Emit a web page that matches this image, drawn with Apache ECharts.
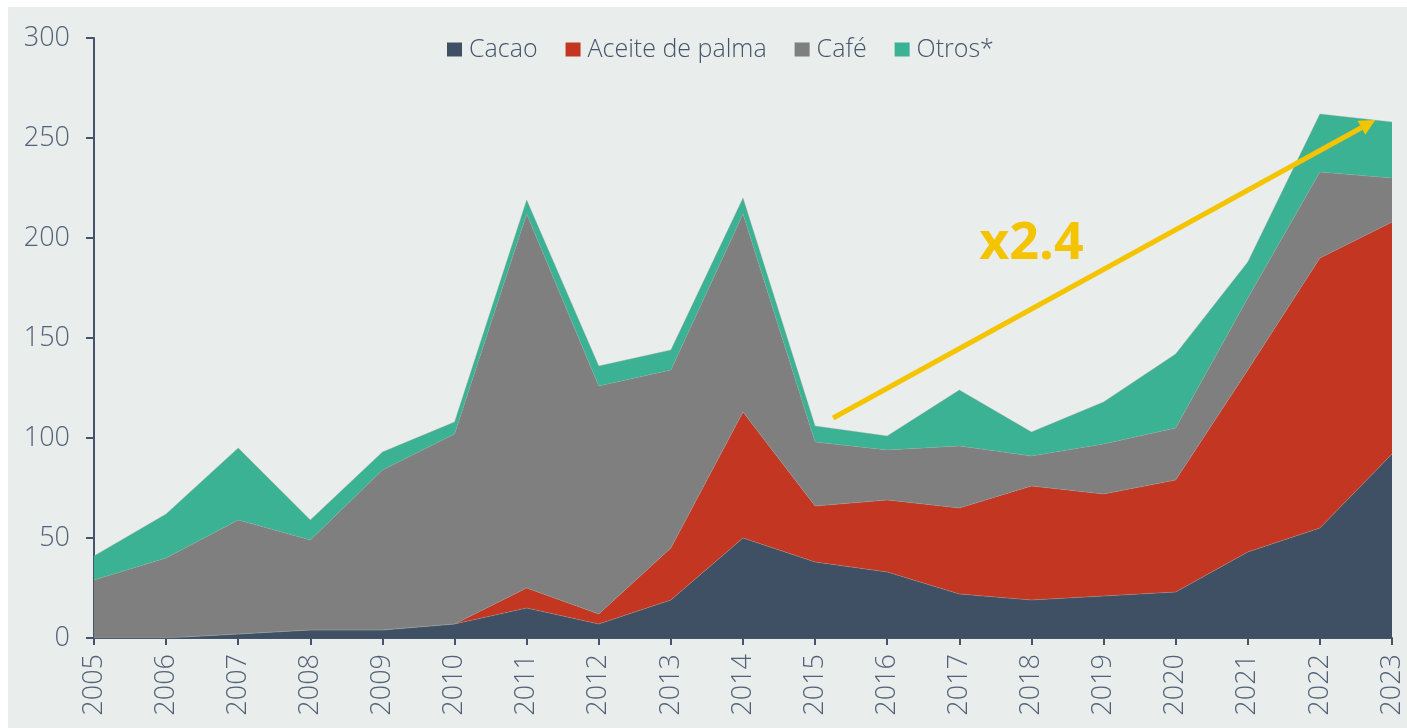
<!DOCTYPE html>
<html>
<head>
<meta charset="utf-8">
<script src="https://cdn.jsdelivr.net/npm/echarts@6/dist/echarts.min.js"></script>
<style>
  html, body { margin: 0; padding: 0; background: #ffffff; }
  #frame { position: absolute; left: 8px; top: 7px; width: 1399px; height: 721px; background: #e9edeb; }
  #chart { position: absolute; left: -8px; top: -7px; width: 1407px; height: 728px; }
</style>
</head>
<body>
<div id="frame"><div id="chart"></div></div>
<script>
// years on the x axis
const years = ['2005','2006','2007','2008','2009','2010','2011','2012','2013','2014',
  '2015','2016','2017','2018','2019','2020','2021','2022','2023'];
// values per product (stacked)
const cacao = [0, 0, 2, 4, 4, 7, 15, 7, 19, 50, 38, 33, 22, 19, 21, 23, 43, 55, 92];
const palma = [0, 0, 0, 0, 0, 0, 10, 5, 26, 63, 28, 36, 43, 57, 51, 56, 91, 135, 116];
const cafe = [29, 40, 57, 45, 80, 95, 187, 114, 89, 99, 32, 25, 31, 15, 25, 26, 36, 43, 22];
const otros = [12, 22, 36, 10, 9, 6, 7, 10, 10, 8, 8, 7, 28, 12, 21, 37, 18, 29, 28];
const yTicks = [0, 50, 100, 150, 200, 250, 300];
// arrow annotation: [year index, value]
const arrowFrom = [10.25, 110];
const arrowTo = [17.77, 259];
const arrowLabel = 'x2.4';

const axisColor = '#44546a';
const textColor = '#52617a';
const font = '"Open Sans", "Noto Sans", sans-serif';

var chart = echarts.init(document.getElementById('chart'));

function mkSeries(name, data, color) {
  return {
    name: name,
    type: 'line',
    stack: 'total',
    data: data,
    symbol: 'none',
    lineStyle: { width: 0.6, color: '#9aa39f', opacity: 0.6 },
    itemStyle: { color: color },
    areaStyle: { color: color, opacity: 1 },
    emphasis: { disabled: true }
  };
}

chart.setOption({
  animation: false,
  backgroundColor: 'transparent',
  textStyle: { fontFamily: font },
  grid: { left: 94, right: 15, top: 38, bottom: 90 },
  legend: {
    top: 32,
    left: 442,
    icon: 'rect',
    itemWidth: 15,
    itemHeight: 14,
    itemGap: 28,
    textStyle: { fontSize: 25, color: axisColor, fontWeight: 300, fontFamily: font, padding: [0, 0, 0, 2] },
    data: ['Cacao', 'Aceite de palma', 'Café', 'Otros*']
  },
  xAxis: {
    type: 'category',
    data: years,
    boundaryGap: false,
    axisLine: { show: true, lineStyle: { color: axisColor, width: 2 } },
    axisTick: { show: true, alignWithLabel: true, length: 7, lineStyle: { color: axisColor, width: 2 } },
    axisLabel: { rotate: 90, margin: 16, fontSize: 27, color: textColor, fontWeight: 300, fontFamily: font },
    splitLine: { show: false }
  },
  yAxis: {
    type: 'value',
    min: yTicks[0],
    max: yTicks[yTicks.length - 1],
    interval: 50,
    axisLine: { show: true, lineStyle: { color: axisColor, width: 2 } },
    axisTick: { show: true, length: 8, lineStyle: { color: axisColor, width: 2 } },
    axisLabel: { margin: 24, fontSize: 27, color: textColor, fontWeight: 300, fontFamily: font },
    splitLine: { show: false }
  },
  series: [
    mkSeries('Cacao', cacao, '#405064'),
    mkSeries('Aceite de palma', palma, '#c33722'),
    mkSeries('Café', cafe, '#7f7f7f'),
    mkSeries('Otros*', otros, '#3bb293')
  ]
});

// map a fractional year index / value to pixels through the axes
function toPx(p) {
  var i0 = Math.floor(p[0]), f = p[0] - i0;
  var a = chart.convertToPixel({ gridIndex: 0 }, [i0, p[1]]);
  var b = chart.convertToPixel({ gridIndex: 0 }, [i0 + 1, p[1]]);
  return [a[0] + (b[0] - a[0]) * f, a[1]];
}
var s = toPx(arrowFrom), e = toPx(arrowTo);
var ang = Math.atan2(e[1] - s[1], e[0] - s[0]);
var head = 16, hw = 8;
var bx = e[0] - head * Math.cos(ang), by = e[1] - head * Math.sin(ang);
var px = -Math.sin(ang) * hw, py = Math.cos(ang) * hw;
var mid = toPx([13.0, 0]);
var labelY = chart.convertToPixel({ yAxisIndex: 0 }, 197);

chart.setOption({
  graphic: [
    {
      type: 'line',
      shape: { x1: s[0], y1: s[1], x2: bx, y2: by },
      style: { stroke: '#f5c400', lineWidth: 5 },
      z: 100
    },
    {
      type: 'polygon',
      shape: { points: [[e[0], e[1]], [bx + px, by + py], [bx - px, by - py]] },
      style: { fill: '#f5c400' },
      z: 100
    },
    {
      type: 'text',
      x: mid[0],
      y: labelY,
      style: {
        text: arrowLabel,
        fill: '#f5c400',
        font: 'bold 52px ' + font,
        align: 'center',
        verticalAlign: 'middle'
      },
      z: 100
    }
  ]
});
</script>
</body>
</html>
